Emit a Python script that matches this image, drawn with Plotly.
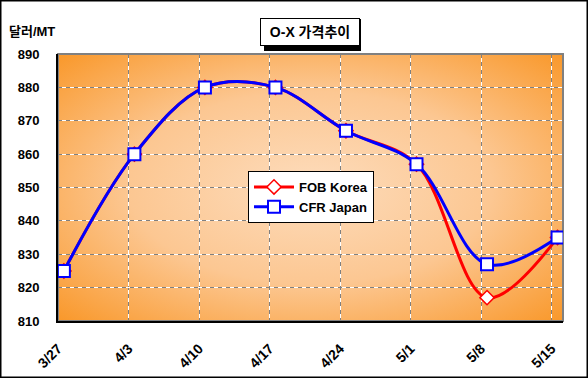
import base64
import plotly.graph_objects as go

# ---- data ----
dates = ["2009-03-27 14:00", "2009-04-03 14:00", "2009-04-10 14:00", "2009-04-17 14:00",
         "2009-04-24 14:00", "2009-05-01 14:00", "2009-05-08 14:00", "2009-05-15 14:00"]
tick_dates = ["2009-03-27", "2009-04-03", "2009-04-10", "2009-04-17",
              "2009-04-24", "2009-05-01", "2009-05-08", "2009-05-15"]
tick_labels = ["3/27", "4/3", "4/10", "4/17", "4/24", "5/1", "5/8", "5/15"]
fob_korea = [825, 860, 880, 880, 867, 857, 817, 835]
cfr_japan = [825, 860, 880, 880, 867, 857, 827, 835]

FONT = "Liberation Sans, Arial, Noto Sans CJK KR, sans-serif"

# plot area in pixels
L, R, T, B = 58, 563, 54, 321
W, H = 588, 378


def px(xp):
    return (xp - L) / (R - L)


def py(yp):
    return (B - yp) / (B - T)


svg = ('<svg xmlns="http://www.w3.org/2000/svg" width="500" height="270" preserveAspectRatio="none">'
       '<defs><radialGradient id="g" cx="50%" cy="50%" r="72%">'
       '<stop offset="0%" stop-color="#FDDCBC"/>'
       '<stop offset="50%" stop-color="#FCC792"/>'
       '<stop offset="100%" stop-color="#F99626"/>'
       '</radialGradient></defs>'
       '<rect width="500" height="270" fill="url(#g)"/></svg>')
img_src = "data:image/svg+xml;base64," + base64.b64encode(svg.encode()).decode()

fig = go.Figure()
fig.add_trace(go.Scatter(
    x=dates, y=fob_korea, name="FOB Korea", mode="lines+markers",
    line=dict(color="#FF0000", width=3, shape="spline", smoothing=1),
    marker=dict(symbol="diamond", size=11, color="white", line=dict(color="#FF0000", width=1.5)),
))
fig.add_trace(go.Scatter(
    x=dates, y=cfr_japan, name="CFR Japan", mode="lines+markers",
    line=dict(color="#0000FF", width=3, shape="spline", smoothing=1),
    marker=dict(symbol="square", size=12, color="white", line=dict(color="#0000FF", width=2)),
))
# overlay axes carrying the white half of the dashed grid
fig.add_trace(go.Scatter(x=[], y=[], xaxis="x2", yaxis="y2", showlegend=False, hoverinfo="skip"))

x_range = ["2009-03-27 00:00", "2009-05-16 03:00"]

fig.update_layout(
    width=W, height=H,
    margin=dict(l=L, r=W - R, t=T, b=H - B, autoexpand=False),
    paper_bgcolor="white",
    plot_bgcolor="rgba(0,0,0,0)",
    font=dict(family=FONT, size=13, color="black"),
    showlegend=True,
    legend=dict(
        x=px(248), y=py(171), xanchor="left", yanchor="top",
        bgcolor="white", bordercolor="black", borderwidth=1,
        font=dict(family=FONT, size=13, color="black", weight="bold"),
        itemwidth=40, tracegroupgap=0,
    ),
    xaxis=dict(
        type="date", range=x_range, automargin=False,
        tickmode="array", tickvals=tick_dates, ticktext=tick_labels,
        tickangle=-45, tickfont=dict(family=FONT, size=14, weight="bold"),
        ticks="outside", ticklen=12, tickcolor="rgba(0,0,0,0)",
        showgrid=True, gridcolor="#808080", gridwidth=1, griddash="4px,4px",
        showline=True, linecolor="black", linewidth=2, zeroline=False,
    ),
    yaxis=dict(
        range=[810, 890], dtick=10, tick0=810, automargin=False,
        tickfont=dict(family=FONT, size=13, weight="bold"),
        ticks="outside", ticklen=14, tickcolor="rgba(0,0,0,0)",
        showgrid=True, gridcolor="#808080", gridwidth=1, griddash="4px,4px",
        showline=True, linecolor="black", linewidth=2, zeroline=False,
    ),
    xaxis2=dict(
        type="date", range=x_range, overlaying="x", anchor="y2", automargin=False,
        tickmode="array", tickvals=tick_dates, showticklabels=False,
        showgrid=True, gridcolor="white", gridwidth=1, griddash="0px,4px,4px,0px",
        showline=False, zeroline=False,
    ),
    yaxis2=dict(
        range=[810, 890], dtick=10, tick0=810, overlaying="y", anchor="x2", automargin=False,
        showticklabels=False,
        showgrid=True, gridcolor="white", gridwidth=1, griddash="0px,4px,4px,0px",
        showline=False, zeroline=False,
    ),
    images=[dict(source=img_src, xref="paper", yref="paper", x=0, y=1,
                 sizex=1, sizey=1, sizing="stretch", xanchor="left", yanchor="top",
                 layer="below")],
    shapes=[
        # plot frame (gray top/right)
        dict(type="rect", xref="paper", yref="paper", x0=0, x1=1, y0=0, y1=1,
             line=dict(color="#808080", width=2), layer="below"),
        # outer chart border
        dict(type="rect", xref="paper", yref="paper",
             x0=px(0.75), x1=px(W - 0.75), y0=py(H - 0.75), y1=py(0.75),
             line=dict(color="black", width=1.5)),
        # title shadow
        dict(type="rect", xref="paper", yref="paper",
             x0=px(264), x1=px(361), y0=py(51), y1=py(19),
             fillcolor="black", line=dict(width=0)),
    ],
    annotations=[
        dict(text="<b>O-X 가격추이</b>", xref="paper", yref="paper",
             x=px(309.5), y=py(32), xanchor="center", yanchor="middle",
             showarrow=False, font=dict(family=FONT, size=14, color="black"),
             bgcolor="white", bordercolor="black", borderwidth=1, borderpad=5,
             width=88),
        dict(text="<b>달러/MT</b>", xref="paper", yref="paper",
             x=px(7), y=py(31), xanchor="left", yanchor="middle",
             showarrow=False, font=dict(family=FONT, size=13, color="black")),
    ],
)

fig.write_html("out.html", config={"displayModeBar": False},
               post_script="document.body.style.margin='0';document.body.style.overflow='hidden';")
